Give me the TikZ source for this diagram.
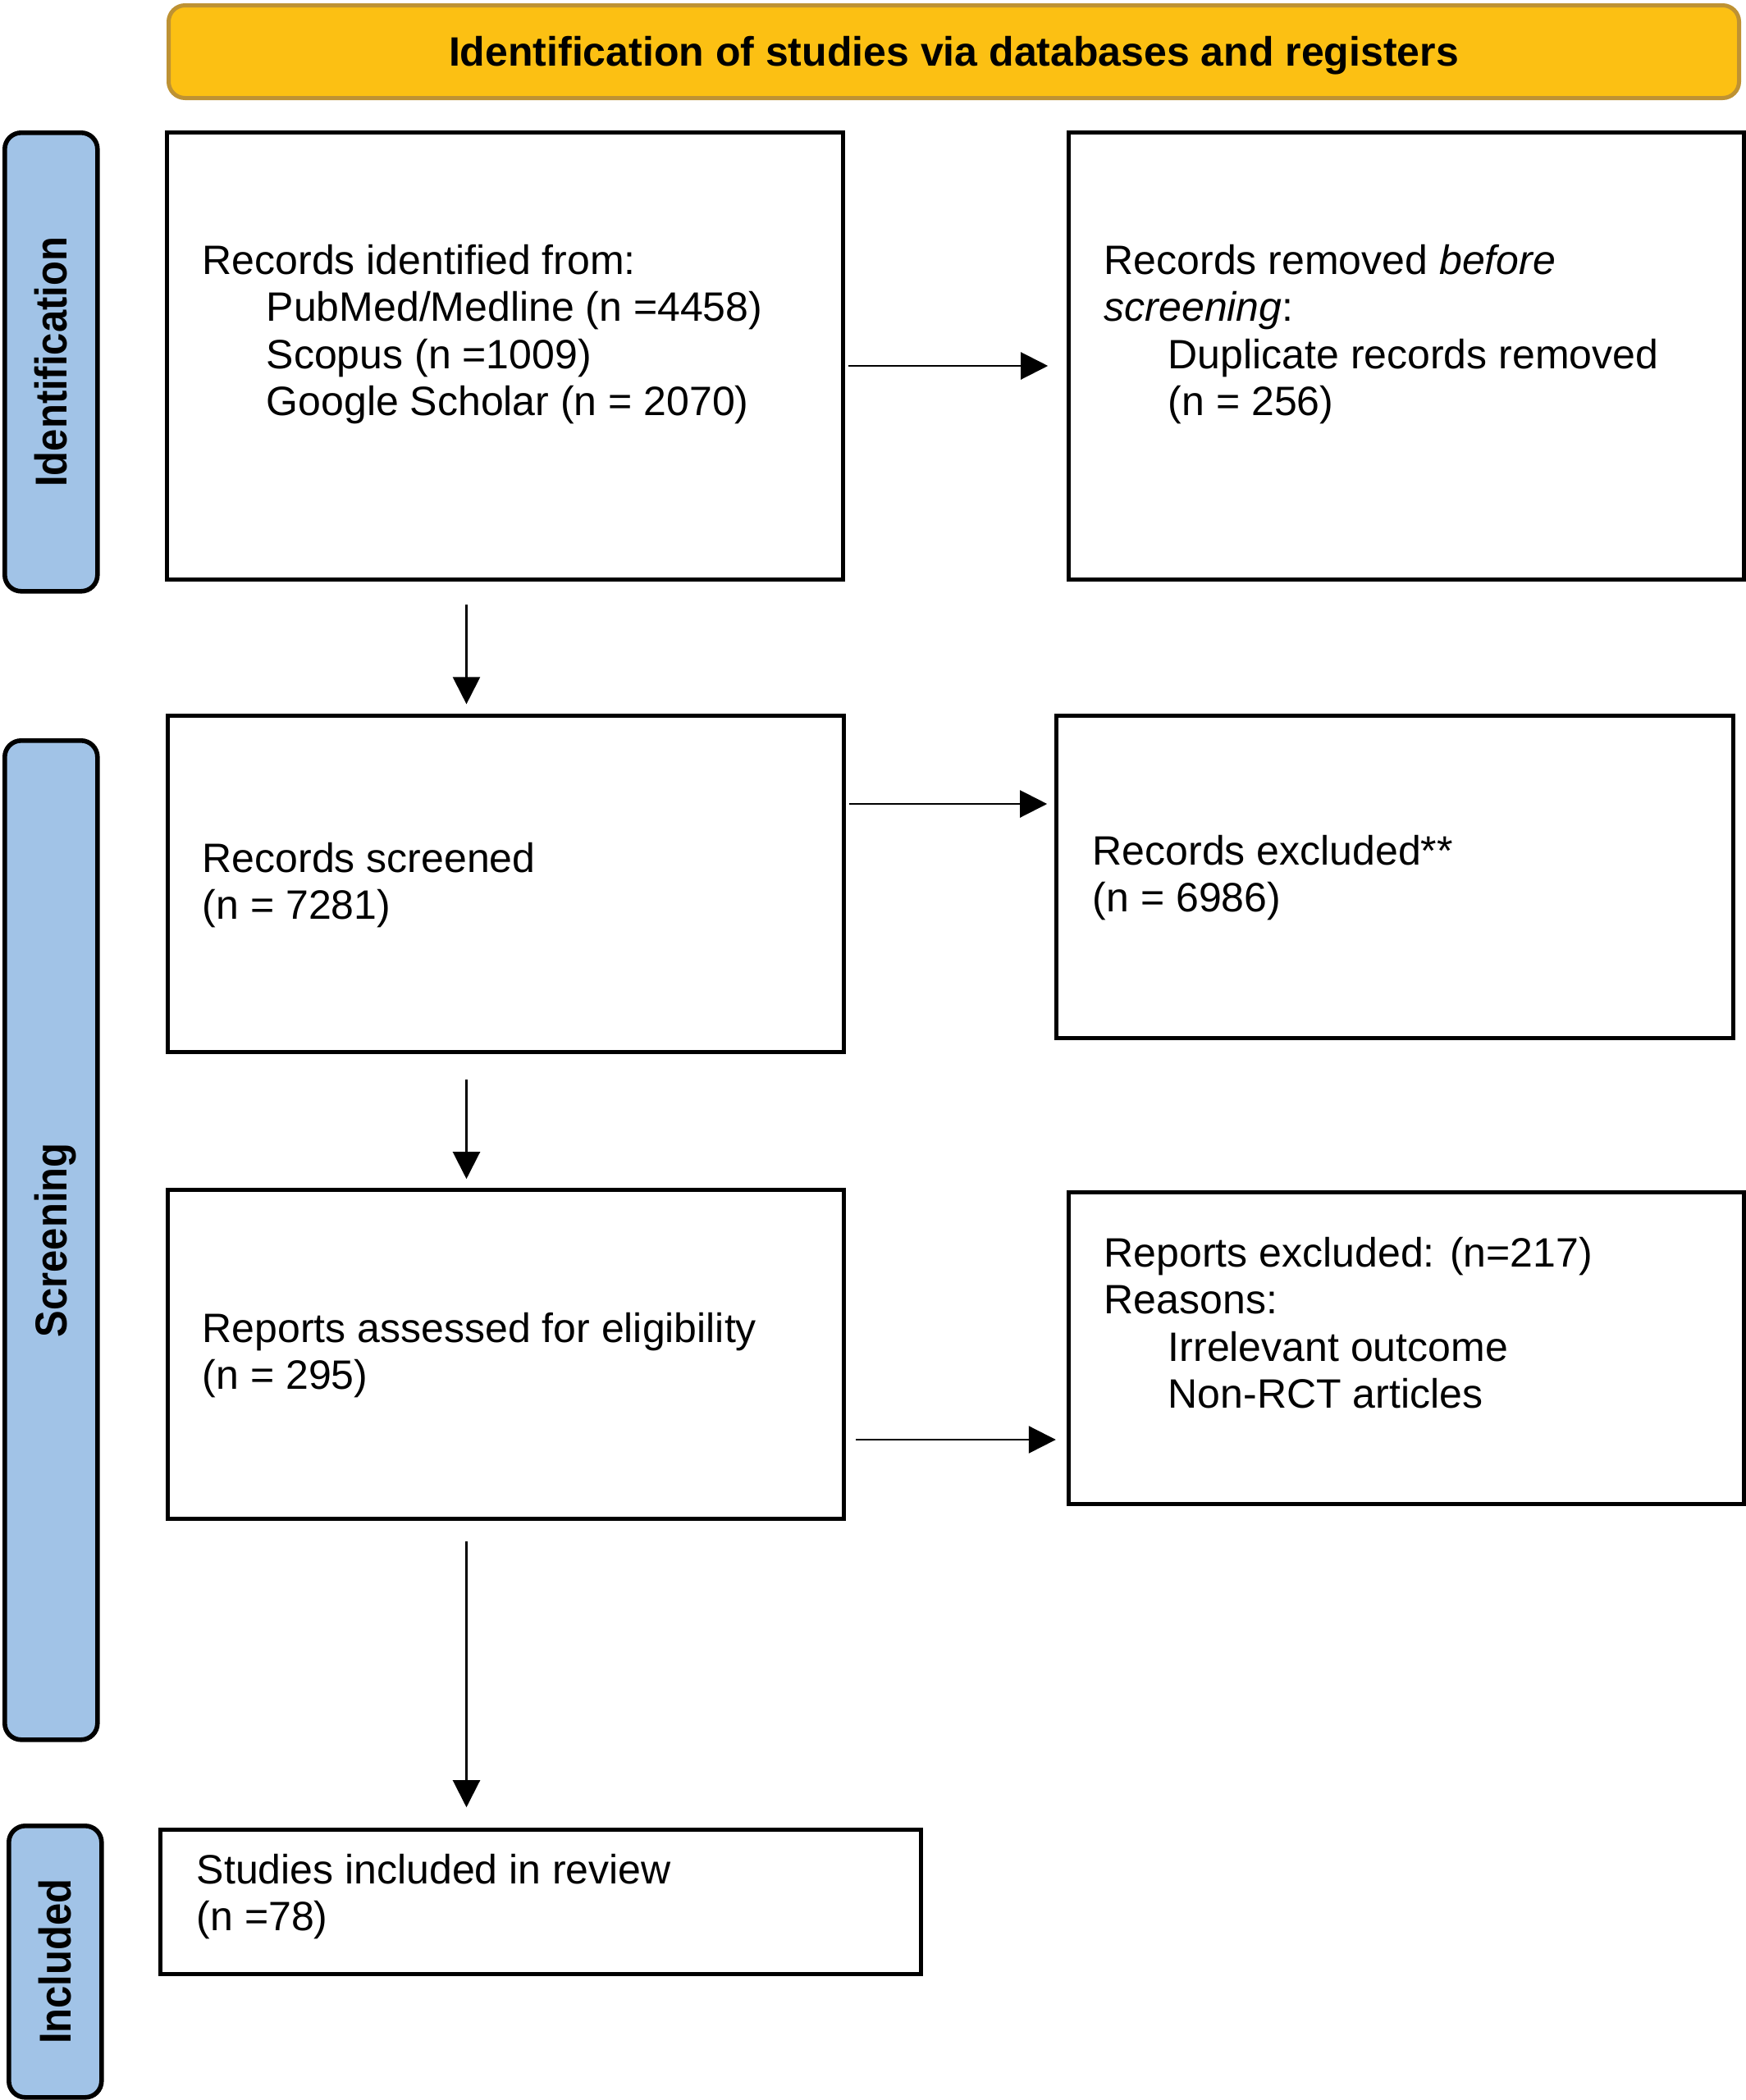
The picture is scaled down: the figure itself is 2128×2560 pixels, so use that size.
\documentclass[tikz,border=0pt]{standalone}
\usepackage{fontspec}
\setmainfont{Liberation Sans}
\newfontfamily\sidefont[FakeStretch=0.9]{Liberation Sans}
\usetikzlibrary{arrows.meta,calc}
\definecolor{hdrfill}{HTML}{FCC013}
\definecolor{hdrline}{HTML}{BE9233}
\definecolor{sidefill}{HTML}{A1C3E7}
\begin{document}
\begin{tikzpicture}[x=0.25pt,y=-0.25pt,
  box/.style={draw=black, line width=1.125pt, fill=white, inner sep=0pt, anchor=north west},
  side/.style={draw=black, line width=1.4pt, fill=sidefill, rounded corners=5pt, inner sep=0pt, anchor=north west, minimum width=28.25pt},
  hdr/.style={draw=hdrline, line width=1.25pt, fill=hdrfill, rounded corners=5pt, inner sep=0pt, anchor=north west},
  txt/.style={anchor=base west, inner sep=0pt, font=\fontsize{12.5}{14.375}\selectfont},
  arr/.style={line width=0.55pt, -{Triangle[length=8.25pt,width=8.25pt]}},
  sidetxt/.style={rotate=90, inner sep=0pt, text height=9.75pt, text depth=0pt, font=\sidefont\bfseries\fontsize{13.6}{16}\selectfont},
  hdrtxt/.style={inner sep=0pt, text height=8.95pt, text depth=0pt, font=\bfseries\fontsize{12.5}{15}\selectfont}]

\useasboundingbox (0,0) rectangle (2128,2560);

% header
\node[hdr, minimum width=478.5pt, minimum height=28.25pt] (hdr) at (203,4) {};
\node[hdrtxt] (hdrt) at (hdr.center) {Identification of studies via databases and registers};

% side labels
\node[side, minimum height=139.75pt] (sid) at (3,159) {};
\node[sidetxt] (sidt) at (sid.center) {Identification};
\node[side, minimum height=304.5pt] (sscr) at (3,900) {};
\node[sidetxt] (sscrt) at (sscr.center) {Screening};
\node[side, minimum height=82.75pt] (sinc) at (8,2223) {};
\node[sidetxt] (sinct) at (sinc.center) {Included};

% boxes
\node[box, minimum width=206pt, minimum height=136.25pt] (b1) at (201,159) {};
\node[box, minimum width=205.75pt, minimum height=136.25pt] (b2) at (1300,159) {};
\node[box, minimum width=206pt, minimum height=102.5pt] (b3) at (202,870) {};
\node[box, minimum width=206.25pt, minimum height=98.25pt] (b4) at (1285,870) {};
\node[box, minimum width=206pt, minimum height=100.25pt] (b5) at (202,1448) {};
\node[box, minimum width=205.75pt, minimum height=95pt] (b6) at (1300,1451) {};
\node[box, minimum width=231.75pt, minimum height=44pt] (b7) at (193,2228) {};

% texts
\node[txt] (t1) at (246,334) {\vtop{\hbox{Records identified from:}\hbox{\hspace{19.5pt}PubMed/Medline (n =4458)}\hbox{\hspace{19.5pt}Scopus (n =1009)}\hbox{\hspace{19.5pt}Google Scholar (n = 2070)}}};
\node[txt] (t2) at (1345,334) {\vtop{\hbox{Records removed \textit{before}}\hbox{\textit{screening}:}\hbox{\hspace{19.5pt}Duplicate records removed}\hbox{\hspace{19.5pt}(n = 256)}}};
\node[txt] (t3) at (246,1063) {\vtop{\hbox{Records screened}\hbox{(n = 7281)}}};
\node[txt] (t4) at (1331,1054) {\vtop{\hbox{Records excluded**}\hbox{(n = 6986)}}};
\node[txt] (t5) at (246,1636) {\vtop{\hbox{Reports assessed for eligibility}\hbox{(n = 295)}}};
\node[txt] (t6) at (1345,1544) {\vtop{\hbox{Reports excluded: (n=217)}\hbox{Reasons:}\hbox{\hspace{19.5pt}Irrelevant outcome}\hbox{\hspace{19.5pt}Non-RCT articles}}};
\node[txt] (t7) at (239,2296) {\vtop{\hbox{Studies included in review}\hbox{(n =78)}}};

% connectors
\coordinate (col) at (568.5,0);
\coordinate (r1) at (0,446);
\coordinate (r2) at (0,980);
\coordinate (r3) at (0,1755);
\draw[arr, shorten <=7.2pt, shorten >=2.9pt] (b1.south -| col) -- (b3.north -| col);
\draw[arr, shorten <=7.9pt, shorten >=2.7pt] (b3.south -| col) -- (b5.north -| col);
\draw[arr, shorten <=6.4pt, shorten >=6.2pt] (b5.south -| col) -- (b7.north -| col);
\draw[arr, shorten <=1pt, shorten >=5.7pt] (b1.east |- r1) -- (b2.west |- r1);
\draw[arr, shorten <=1pt, shorten >=2.2pt] (b3.east |- r2) -- (b4.west |- r2);
\draw[arr, shorten <=3.2pt, shorten >=3.3pt] (b5.east |- r3) -- (b6.west |- r3);
\end{tikzpicture}
\end{document}
